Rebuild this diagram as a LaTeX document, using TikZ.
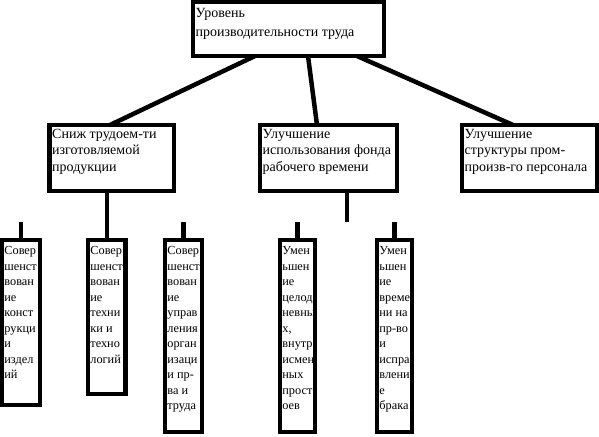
\documentclass[tikz,border=0pt]{standalone}
\usepackage{fontspec}
\setmainfont{Liberation Serif}
\newfontfamily\rufont{Liberation Serif}
\usetikzlibrary{calc}
\begin{document}
\begin{tikzpicture}[x=1pt,y=-1pt,
  frame/.style={draw, line width=4.5pt, inner sep=0pt, outer sep=0pt, anchor=center},
  bigtxt/.style={anchor=north west, inner sep=0pt, align=left, font=\rufont\fontsize{14}{19}\selectfont},
  midtxt/.style={anchor=north west, inner sep=0pt, align=left, font=\rufont\fontsize{14}{16.5}\selectfont},
  smalltxt/.style={anchor=north west, inner sep=0pt, align=left, font=\rufont\fontsize{12.3}{15.5}\selectfont},
  link/.style={draw, line width=4.5pt}]
\useasboundingbox (0,0) rectangle (599,436);
% boxes
\node[frame, minimum width=191pt, minimum height=54pt] (T) at (288.5,29) {};
\node[frame, minimum width=124.5pt, minimum height=66pt] (S) at (111.75,158) {};
\node[frame, minimum width=137pt, minimum height=66pt] (U) at (328.5,158) {};
\node[frame, minimum width=135pt, minimum height=66pt] (P) at (529.5,158) {};
\node[frame, minimum width=38pt, minimum height=165pt] (A) at (21,322.5) {};
\node[frame, minimum width=37.5pt, minimum height=154pt] (B) at (106.75,317) {};
\node[frame, minimum width=37pt, minimum height=192pt] (C) at (183.5,336) {};
\node[frame, minimum width=35pt, minimum height=192pt] (D) at (297.5,336) {};
\node[frame, minimum width=35pt, minimum height=192pt] (E) at (394.5,336) {};
% texts
\node[bigtxt] (tT) at ([xshift=2.5pt,yshift=-6.5pt]T.north west) {Уровень\\производительности труда};
\node[midtxt] (tS) at ([xshift=2.5pt,yshift=-4pt]S.north west) {Сниж трудоем-ти\\изготовляемой\\продукции};
\node[midtxt] (tU) at ([xshift=2.5pt,yshift=-4pt]U.north west) {Улучшение\\использования фонда\\рабочего времени};
\node[midtxt] (tP) at ([xshift=2.5pt,yshift=-4pt]P.north west) {Улучшение\\структуры пром-\\произв-го персонала};
\node[smalltxt] (tA) at ([xshift=2.2pt,yshift=-6.5pt]A.north west) {Совер\\шенст\\вован\\ие\\конст\\рукци\\и\\издел\\ий};
\node[smalltxt] (tB) at ([xshift=2.2pt,yshift=-6.5pt]B.north west) {Совер\\шенст\\вован\\ие\\техни\\ки и\\техно\\логий};
\node[smalltxt] (tC) at ([xshift=2.2pt,yshift=-6.5pt]C.north west) {Совер\\шенст\\вован\\ие\\управ\\ления\\орган\\изаци\\и пр-\\ва и\\труда};
\node[smalltxt] (tD) at ([xshift=2.2pt,yshift=-6.5pt]D.north west) {Умен\\ьшен\\ие\\целод\\невны\\х,\\внутр\\исмен\\ных\\прост\\оев};
\node[smalltxt] (tE) at ([xshift=2.2pt,yshift=-6.5pt]E.north west) {Умен\\ьшен\\ие\\време\\ни на\\пр-во\\и\\испра\\влени\\е\\брака};
% free ends of stubs
\coordinate (a0) at (21,222);
\coordinate (c0) at (183.5,222);
\coordinate (u0) at (347,222);
\coordinate (d0) at (297.5,222);
\coordinate (e0) at (394.5,222);
% connectors
\draw[link] ([xshift=62pt]T.south west) -- ([xshift=60.5pt]S.north west);
\draw[link] ([xshift=115pt]T.south west) -- ([xshift=57pt]U.north west);
\draw[link] ([xshift=164pt]T.south west) -- ([xshift=51pt]P.north west);
\draw[link] (B.north) -- (B.north |- S.south);
\draw[link] (A.north) -- (a0);
\draw[link] (C.north) -- (c0);
\draw[link] (U.south -| u0) -- (u0);
\draw[link] (D.north) -- (d0);
\draw[link] (E.north) -- (e0);
\end{tikzpicture}
\end{document}
